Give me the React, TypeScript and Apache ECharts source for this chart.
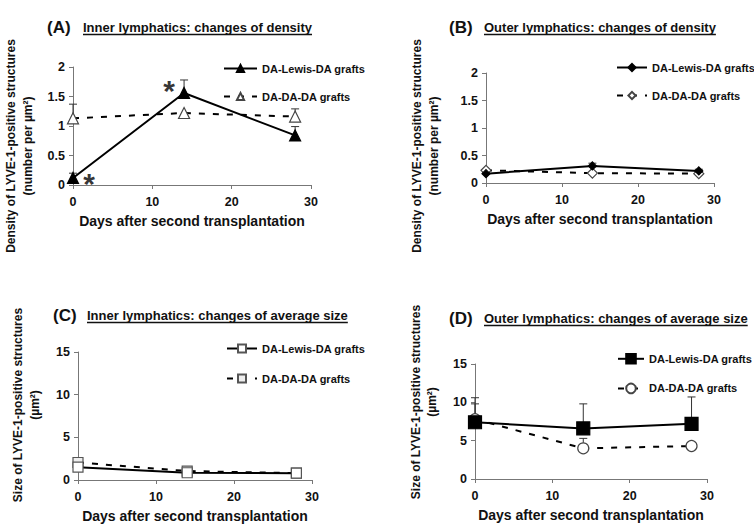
import React, { useEffect, useRef } from "react";
import * as echarts from "echarts";

const days = [0, 14, 28];

// Panel A: inner density
const aLewis = [0.12, 1.56, 0.84];
const aLewisErr = [0.2, 1.78, 0.99];
const aDA = [1.13, 1.22, 1.16];
const aDAErr = [1.37, 1.22, 1.29];
// Panel B: outer density
const bLewis = [0.17, 0.31, 0.22];
const bLewisErr = [0.2, 0.36, 0.25];
const bDA = [0.23, 0.18, 0.17];
// Panel C: inner size
const cLewis = [1.5, 0.85, 0.8];
const cDA = [2.05, 1.05, 0.8];
// Panel D: outer size
const dLewis = [7.4, 6.6, 7.2];
const dLewisErr = [9.8, 9.8, 10.7];
const dDA = [7.8, 4.0, 4.3];
const dDAErr = [10.6, 5.3, 4.3];

const LEWIS = "DA-Lewis-DA grafts";
const DADA = "DA-DA-DA grafts";
const titles = [
  ["(A)", "Inner lymphatics: changes of density"],
  ["(B)", "Outer lymphatics: changes of density"],
  ["(C)", "Inner lymphatics: changes of average size"],
  ["(D)", "Outer lymphatics: changes of average size"],
];
const densityName = ["Density of LYVE-1-positive structures", "(number per µm²)"];
const sizeName = ["Size of LYVE-1-positive structures", "(µm²)"];
const xName = "Days after second transplantation";
const stars = [[0, 0.12], [14, 1.56]];

const FONT = "Liberation Sans, Arial, sans-serif";

function pts(ys: number[]) {
  return days.map((d, i) => [d, ys[i]]);
}
function errs(ys: number[], hi: number[]) {
  return days.map((d, i) => [d, ys[i], hi[i]]);
}

function textWidth(t: string, font: string) {
  const c = document.createElement("canvas").getContext("2d")!;
  c.font = font;
  return c.measureText(t).width;
}

export default function App() {
  const ref = useRef<HTMLDivElement>(null);
  useEffect(() => {
    document.body.style.margin = "0";
    const chart = echarts.init(ref.current!, null, { renderer: "svg" });

    const grids = [
      { left: 73, top: 67, width: 238, height: 118 },
      { left: 486, top: 73, width: 228, height: 110 },
      { left: 78, top: 352, width: 234, height: 128 },
      { left: 475, top: 364, width: 232, height: 115 },
    ];
    const axisLine = { show: true, lineStyle: { color: "#777", width: 1 } };
    const axisTick = { show: true, inside: false, length: 4, lineStyle: { color: "#777" } };
    const axisLabel = { color: "#111", fontFamily: FONT, fontWeight: "bold" as const, fontSize: 12.5 };
    const nameStyle = { color: "#111", fontFamily: FONT, fontWeight: "bold" as const };

    const xAxis = grids.map((_, i) => ({
      type: "value",
      gridIndex: i,
      min: 0,
      max: 30,
      interval: 10,
      axisLine,
      axisTick,
      axisLabel: { ...axisLabel, margin: 10 },
      splitLine: { show: false },
      name: xName,
      nameLocation: "middle",
      nameGap: 29,
      nameTextStyle: { ...nameStyle, fontSize: 14 },
    }));
    const yAxis = grids.map((_, i) => ({
      type: "value",
      gridIndex: i,
      min: 0,
      max: i < 2 ? 2 : 15,
      interval: i < 2 ? 0.5 : 5,
      axisLine,
      axisTick,
      axisLabel: { ...axisLabel, margin: 8 },
      splitLine: { show: false },
    }));

    const solid = { color: "#000", width: 2, type: "solid" as const };
    const dashed = { color: "#000", width: 2, type: [6, 8] as any };

    const lineSeries = (
      name: string,
      idx: number,
      data: number[],
      dash: boolean,
      symbol: string,
      size: number,
      fill: string,
      border: string
    ) => ({
      type: "line",
      name: name + "|" + idx,
      xAxisIndex: idx,
      yAxisIndex: idx,
      data: pts(data),
      lineStyle: dash ? dashed : solid,
      symbol,
      symbolSize: size,
      showSymbol: true,
      itemStyle: { color: fill, borderColor: border, borderWidth: 1.2 },
      z: dash ? 3 : 4,
    });

    const errSeries = (idx: number, ys: number[], hi: number[]) => ({
      type: "custom",
      xAxisIndex: idx,
      yAxisIndex: idx,
      data: errs(ys, hi),
      encode: { x: 0, y: [1, 2] },
      clip: false,
      z: 2,
      renderItem: (_p: any, api: any) => {
        const x = api.value(0);
        const lo = api.value(1);
        const hi2 = api.value(2);
        if (hi2 <= lo) return null;
        const a = api.coord([x, lo]);
        const b = api.coord([x, hi2]);
        const st = { stroke: "#333", lineWidth: 1 };
        return {
          type: "group",
          children: [
            { type: "line", shape: { x1: a[0], y1: a[1], x2: b[0], y2: b[1] }, style: st },
            { type: "line", shape: { x1: b[0] - 4, y1: b[1], x2: b[0] + 4, y2: b[1] }, style: st },
          ],
        };
      },
    });

    const series: any[] = [
      errSeries(0, aLewis, aLewisErr),
      errSeries(0, aDA, aDAErr),
      errSeries(1, bLewis, bLewisErr),
      errSeries(3, dLewis, dLewisErr),
      errSeries(3, dDA, dDAErr),
      lineSeries(LEWIS, 0, aLewis, false, "triangle", 11, "#000", "#000"),
      lineSeries(DADA, 0, aDA, true, "triangle", 11, "#fff", "#444"),
      lineSeries(LEWIS, 1, bLewis, false, "diamond", 8, "#000", "#000"),
      lineSeries(DADA, 1, bDA, true, "diamond", 10, "#fff", "#444"),
      lineSeries(LEWIS, 2, cLewis, false, "rect", 10, "#fff", "#555"),
      lineSeries(DADA, 2, cDA, true, "rect", 10, "#eee", "#555"),
      lineSeries(LEWIS, 3, dLewis, false, "rect", 13, "#000", "#000"),
      lineSeries(DADA, 3, dDA, true, "circle", 11, "#fff", "#444"),
      {
        type: "scatter",
        xAxisIndex: 0,
        yAxisIndex: 0,
        data: stars,
        symbolSize: 1,
        itemStyle: { color: "transparent" },
        z: 6,
        label: {
          show: true,
          formatter: "*",
          fontSize: 30,
          fontWeight: "bold",
          fontFamily: FONT,
          color: "#000",
          position: "inside",
        },
        labelLayout: (p: any) =>
          p.dataIndex === 0 ? { dx: 16, dy: 6 } : { dx: -15, dy: -2 },
      },
    ];

    const legendPos = [
      { left: 218, top: 58, itemGap: 17, itemWidth: 33, itemHeight: 9 },
      { left: 611, top: 57, itemGap: 17, itemWidth: 30, itemHeight: 9 },
      { left: 221, top: 338, itemGap: 19, itemWidth: 30, itemHeight: 10 },
      { left: 612, top: 348, itemGap: 18, itemWidth: 26, itemHeight: 12 },
    ];
    const legend = legendPos.map((l, i) => ({
      ...l,
      orient: "vertical",
      itemTextGap: 3,
      data: [LEWIS + "|" + i, DADA + "|" + i],
      formatter: (n: string) => n.split("|")[0],
      textStyle: { color: "#111", fontFamily: FONT, fontWeight: "bold", fontSize: 11 },
      selectedMode: false,
    }));

    const titlePos = [
      { lx: 47, tx: 83, y: 27 },
      { lx: 449, tx: 484, y: 27 },
      { lx: 53, tx: 87, y: 315 },
      { lx: 449, tx: 484, y: 318 },
    ];
    const titleFont = "bold 13px " + FONT;
    const graphic: any[] = [];
    titlePos.forEach((p, i) => {
      graphic.push({
        type: "text",
        x: p.lx,
        y: p.y,
        style: {
          text: titles[i][0],
          font: "bold 17px " + FONT,
          fill: "#111",
          textVerticalAlign: "middle",
        },
      });
      graphic.push({
        type: "text",
        x: p.tx,
        y: p.y,
        style: {
          text: titles[i][1],
          font: titleFont,
          fill: "#111",
          textVerticalAlign: "middle",
        },
      });
      const w = textWidth(titles[i][1], titleFont);
      graphic.push({
        type: "line",
        shape: { x1: p.tx, y1: p.y + 7.5, x2: p.tx + w, y2: p.y + 7.5 },
        style: { stroke: "#111", lineWidth: 1.3 },
      });
    });

    // rotated y-axis titles
    const yTitles = [
      { x1: 11, x2: 28, cy: 146, t: densityName },
      { x1: 417, x2: 434, cy: 146, t: densityName },
      { x1: 18, x2: 35, cy: 405, t: sizeName },
      { x1: 416, x2: 432, cy: 402, t: sizeName },
    ];
    yTitles.forEach((y) => {
      [y.x1, y.x2].forEach((x, k) => {
        graphic.push({
          type: "text",
          x,
          y: y.cy,
          rotation: Math.PI / 2,
          style: {
            text: y.t[k],
            font: "bold 12px " + FONT,
            fill: "#111",
            textAlign: "center",
            textVerticalAlign: "middle",
          },
        });
      });
    });

    chart.setOption({
      animation: false,
      backgroundColor: "#fff",
      grid: grids,
      xAxis,
      yAxis,
      legend,
      series,
      graphic,
    });

    return () => chart.dispose();
  }, []);
  return <div ref={ref} style={{ width: 754, height: 527 }} />;
}
